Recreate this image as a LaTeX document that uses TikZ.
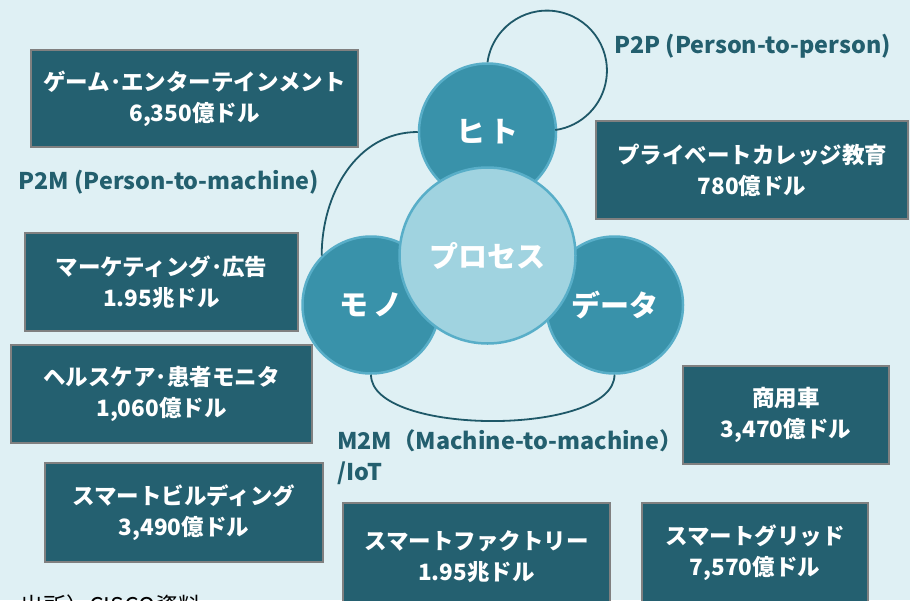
\documentclass[tikz,border=0pt]{standalone}
\usepackage{fontspec}
\setmainfont{Noto Sans CJK JP}
\newfontfamily\lblfont[FakeStretch=1.015]{Noto Sans CJK JP}
\definecolor{bgc}{RGB}{223,240,244}
\definecolor{boxfill}{RGB}{36,96,112}
\definecolor{boxline}{RGB}{128,128,128}
\definecolor{outerfill}{RGB}{57,146,170}
\definecolor{ringline}{RGB}{88,174,200}
\definecolor{centerfill}{RGB}{160,211,224}
\definecolor{connc}{RGB}{30,88,104}
\definecolor{labelc}{RGB}{35,95,110}
\begin{document}
\begin{tikzpicture}[x=1pt,y=-1pt,
  bx/.style={draw=boxline,line width=2pt,fill=boxfill,text=white,align=center,inner sep=0pt,
    font=\bfseries\fontsize{22.5}{31}\selectfont},
  outer/.style={circle,draw=ringline,line width=2.5pt,fill=outerfill,text=white,inner sep=0pt,
    minimum size=137pt,font=\bfseries\fontsize{29}{32}\selectfont},
  inner/.style={circle,draw=ringline,line width=2.5pt,fill=centerfill,text=white,inner sep=0pt,
    minimum size=176pt,font=\bfseries\fontsize{29}{32}\selectfont},
  conn/.style={draw=connc,line width=1.8pt},
  lbl/.style={text=labelc,inner sep=0pt,font=\lblfont\bfseries\fontsize{23}{31}\selectfont}]
\useasboundingbox (0,0) rectangle (910,600);
\clip (0,0) rectangle (910,600);
\fill[bgc] (0,0) rectangle (910,600);

% circles
\node[outer] (hito) at (487.5,132) {ヒ\,ト};
\node[outer] (mono) at (371,305) {モ\,ノ};
\node[outer] (data) at (614.5,305) {データ};

% connectors
\draw[conn] (hito.north) arc[start angle=172,end angle=-82,radius=60pt];
\draw[conn] (hito.west) to[out=180,in=90] (mono.135);
\draw[conn] (mono.south) to[out=-90,in=-90,looseness=0.65] (data.south);

\node[inner] (proc) at (487.5,255.5) {プロセス};

% boxes
\node[bx,minimum width=327pt,minimum height=97pt] (game) at (194.5,98.5) {ゲーム･エンターテインメント\\6,350億ドル};
\node[bx,minimum width=312pt,minimum height=98pt] (college) at (752,170) {プライベートカレッジ教育\\780億ドル};
\node[bx,minimum width=273pt,minimum height=98pt] (market) at (161.5,282) {マーケティング･広告\\1.95兆ドル};
\node[bx,minimum width=301pt,minimum height=98pt] (health) at (161.5,394) {ヘルスケア･患者モニタ\\1,060億ドル};
\node[bx,minimum width=278pt,minimum height=99pt] (building) at (184,512.5) {スマートビルディング\\3,490億ドル};
\node[bx,minimum width=206pt,minimum height=98pt] (vehicle) at (786,415) {商用車\\3,470億ドル};
\node[bx,minimum width=226pt,minimum height=100pt] (grid) at (755,553) {スマートグリッド\\7,570億ドル};
\node[bx,minimum width=267pt,minimum height=108pt] (factory) at (476.5,557) {スマートファクトリー\\1.95兆ドル};

% labels
\node[lbl,anchor=west] (p2p) at (614,46) {P2P (Person-to-person)};
\node[lbl,anchor=west] (p2m) at (18,182) {P2M (Person-to-machine)};
\node[lbl,anchor=west,align=left] (m2m) at (337,457) {M2M（Machine-to-machine）\\/IoT};
\node[anchor=west,inner sep=0pt,font=\fontsize{23}{26}\selectfont] (src) at (20,606) {出所）CISCO資料};
\end{tikzpicture}
\end{document}
